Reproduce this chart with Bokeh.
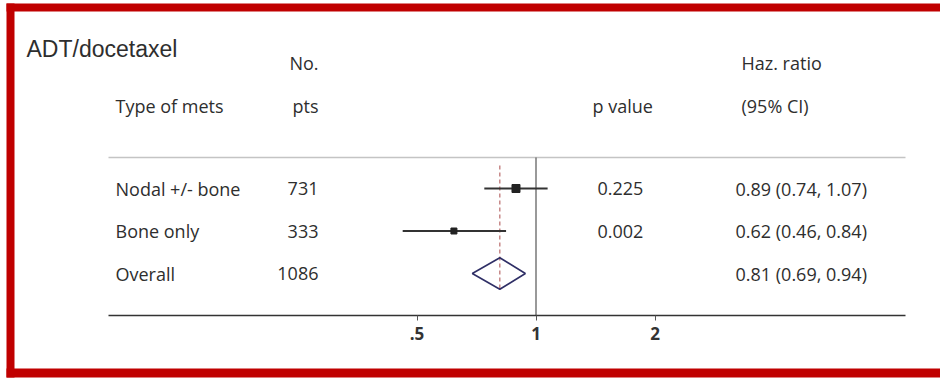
from bokeh.plotting import figure
from bokeh.models import Range1d, LinearScale, FixedTicker, BoxAnnotation, ColumnDataSource
from bokeh.core.properties import value
from bokeh.embed import file_html
from bokeh.resources import INLINE

# ---------------- data ----------------
title_text = "ADT/docetaxel"
groups = ["Nodal +/- bone", "Bone only", "Overall"]
n_pts = ["731", "333", "1086"]
p_values = ["0.225", "0.002", ""]
hr = [0.89, 0.62, 0.81]
ci_lo = [0.74, 0.46, 0.69]
ci_hi = [1.07, 0.84, 0.94]
hr_text = ["0.89 (0.74, 1.07)", "0.62 (0.46, 0.84)", "0.81 (0.69, 0.94)"]
tick_values = [0.5, 1, 2]
tick_labels = [".5", "1", "2"]

# ---------------- layout constants ----------------
W, H = 940, 380
AXIS_PX = 315
ROW0_PX = 188.0
ROW_STEP = 42.5
ONE_PX = 535.5
PX_PER_DOUBLING = 119.0
AXIS_LEFT_PX, AXIS_RIGHT_PX = 108, 905


def px_to_x(px):
    return 2 ** ((px - ONE_PX) / PX_PER_DOUBLING)


def px_to_row(py):
    return (py - ROW0_PX) / ROW_STEP


rows = list(range(len(groups)))
study_rows = rows[:-1]
overall_row = rows[-1]

TEXT_FONT = value("Open Sans")
TXT = "#2e2e2e"
FS = "18px"

p = figure(
    width=W, height=H,
    x_axis_type="log",
    x_range=Range1d(px_to_x(0), px_to_x(W)),
    y_range=Range1d(px_to_row(H), px_to_row(0)),
    y_axis_location=None,
    output_backend="svg", toolbar_location=None,
    min_border_left=0, min_border_right=0, min_border_top=0, min_border_bottom=0,
)
p.extra_x_ranges = {"tab": Range1d(0, W)}
p.extra_x_scales = {"tab": LinearScale()}
p.xgrid.visible = False
p.ygrid.visible = False
p.outline_line_color = None
p.background_fill_color = "white"
p.border_fill_color = "white"

AXIS_ROW = px_to_row(AXIS_PX)

ax = p.xaxis[0]
ax.fixed_location = AXIS_ROW
ax.ticker = FixedTicker(ticks=tick_values)
ax.major_label_overrides = {v: l for v, l in zip(tick_values, tick_labels)}
ax.bounds = (px_to_x(AXIS_LEFT_PX), px_to_x(AXIS_RIGHT_PX))
ax.axis_line_color = "#333333"
ax.axis_line_width = 1.5
ax.major_tick_in = 0
ax.major_tick_out = 5
ax.major_tick_line_color = "#555555"
ax.minor_tick_line_color = None
ax.major_label_text_font = "Open Sans"
ax.major_label_text_font_size = "17px"
ax.major_label_text_font_style = "bold"
ax.major_label_text_color = "#333333"
ax.major_label_standoff = 6

SEP_ROW = px_to_row(157)

# separator line
p.segment(x0=[ax.bounds[0]], y0=[SEP_ROW], x1=[ax.bounds[1]], y1=[SEP_ROW],
          line_color="#c4c4c4", line_width=1.5)
# null line at 1
p.segment(x0=[1], y0=[SEP_ROW], x1=[1], y1=[AXIS_ROW],
          line_color="#555555", line_width=1.2)

DIAM_H = 0.37
# overall dashed line
p.segment(x0=[hr[overall_row]], y0=[px_to_row(165)], x1=[hr[overall_row]], y1=[overall_row + DIAM_H],
          line_color="#b86a6a", line_width=1.2, line_dash="4 3")

# CIs and point estimates
src = ColumnDataSource(dict(hr=[hr[i] for i in study_rows], lo=[ci_lo[i] for i in study_rows],
                            hi=[ci_hi[i] for i in study_rows], row=study_rows, size=[8, 6]))
p.segment(x0="lo", y0="row", x1="hi", y1="row", source=src, line_color="#333333", line_width=2)
p.scatter(x="hr", y="row", source=src, marker="square", size="size", fill_color="#222222", line_color="#222222")

# overall diamond
o = overall_row
p.patch(x=[ci_lo[o], hr[o], ci_hi[o], hr[o]], y=[o, o - DIAM_H, o, o + DIAM_H],
        fill_alpha=0, line_color="#2f2f66", line_width=1.6)

# ---------------- text ----------------
def txt(x, y, t, align="left", font=TEXT_FONT, size=FS):
    p.text(x=x, y=y, text=t, x_range_name="tab", text_font=font, text_font_size=size,
           text_color=TXT, text_align=align, text_baseline="middle")

txt([26], [px_to_row(48)], [title_text], font=value("Liberation Sans"), size="23px")
txt([318], [px_to_row(62)], ["No."], align="right")
txt([741], [px_to_row(62)], ["Haz. ratio"])
txt([115], [px_to_row(105)], ["Type of mets"])
txt([318], [px_to_row(105)], ["pts"], align="right")
txt([592], [px_to_row(105)], ["p value"])
txt([741], [px_to_row(105)], ["(95% CI)"])

txt([115] * len(rows), rows, groups)
txt([318] * len(rows), rows, n_pts, align="right")
txt([597] * len(rows), rows, p_values)
txt([735] * len(rows), rows, hr_text)

# ---------------- red frame ----------------
RED = "#c00000"
for l, r, t, b in [(6, 14, 3, 377), (6, W, 3, 11), (6, W, 368, 377)]:
    p.add_layout(BoxAnnotation(left=l, right=r, top=t, bottom=b,
                               left_units="canvas", right_units="canvas",
                               top_units="canvas", bottom_units="canvas",
                               fill_color=RED, fill_alpha=1, line_color=None))

open("out.html", "w").write(file_html(p, INLINE))
